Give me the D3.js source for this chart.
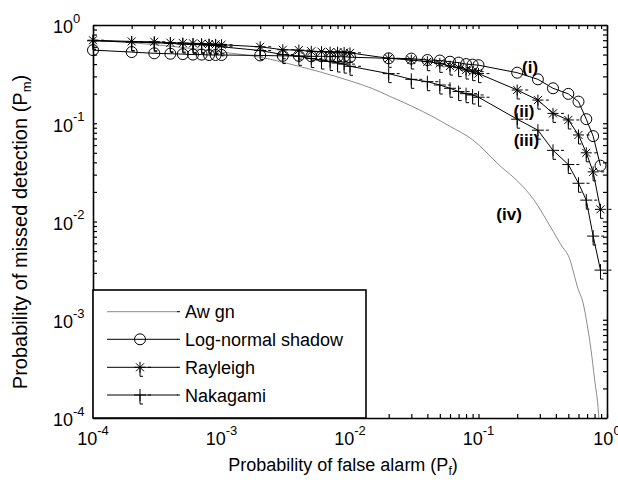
<!DOCTYPE html>
<html><head><meta charset="utf-8">
<script src="https://cdn.jsdelivr.net/npm/d3@7"></script>
<style>body{margin:0;background:#fff}svg text{font-family:"Liberation Sans",Arial,sans-serif;fill:#000}</style>
</head><body><svg id="c" width="618" height="485"></svg>
<script>
// ---- data ----
const pf = [1e-4,2e-4,3e-4,4e-4,5e-4,6e-4,7e-4,8e-4,9e-4,
            1e-3,2e-3,3e-3,4e-3,5e-3,6e-3,7e-3,8e-3,9e-3,
            1e-2,2e-2,3e-2,4e-2,5e-2,6e-2,7e-2,8e-2,9e-2,
            0.1,0.2,0.29,0.38,0.5,0.6,0.69,0.78,0.89];
const logNormal = [0.555,0.53,0.515,0.51,0.505,0.50,0.50,0.495,0.495,
                   0.495,0.49,0.485,0.485,0.48,0.48,0.478,0.476,0.475,
                   0.47,0.458,0.455,0.44,0.435,0.423,0.414,0.40,0.395,
                   0.39,0.327,0.28,0.227,0.199,0.166,0.11,0.074,0.037];
const rayleigh = [0.70,0.68,0.675,0.66,0.655,0.65,0.645,0.64,0.635,
                  0.63,0.60,0.56,0.555,0.54,0.535,0.53,0.53,0.525,
                  0.52,0.458,0.44,0.423,0.407,0.382,0.368,0.348,0.335,
                  0.32,0.218,0.172,0.126,0.108,0.076,0.05,0.032,0.0133];
const nakagami = [0.69,0.67,0.66,0.65,0.64,0.635,0.63,0.625,0.62,
                  0.60,0.55,0.50,0.48,0.455,0.44,0.425,0.41,0.40,
                  0.38,0.32,0.28,0.265,0.245,0.227,0.21,0.20,0.194,
                  0.184,0.11,0.085,0.053,0.038,0.0245,0.0165,0.0071,0.0032];
const awgnPf = [1e-4,2e-4,5e-4,1e-3,2e-3,4e-3,6e-3,1e-2,1.5e-2,2e-2,3e-2,4.5e-2,6e-2,9e-2,
                0.15,0.2,0.27,0.36,0.45,0.5,0.6,0.65,0.7,0.75,0.8,0.86,0.9];
const awgnPm = [0.70,0.66,0.59,0.53,0.47,0.38,0.33,0.27,0.225,0.19,0.15,0.115,0.093,0.068,
                0.036,0.026,0.0166,0.009,0.0055,0.0045,0.002,0.0015,0.0009,0.0005,0.00025,0.00011,0.00004];
const seriesNames = ["Aw gn","Log-normal shadow","Rayleigh","Nakagami"];
const curveLabels = ["(i)","(ii)","(iii)","(iv)"];
const labelPf = [0.252,0.226,0.236,0.173];
const labelPm = [0.321,0.117,0.0587,0.01035];
const decades = [1e-4,1e-3,1e-2,1e-1,1];
const exps = ["-4","-3","-2","-1","0"];

// ---- layout ----
const svg = d3.select("#c");
const L=93,R=607,T=25,B=418;
const x = d3.scaleLog().domain([1e-4,1]).range([L,R]);
const y = d3.scaleLog().domain([1e-4,1]).range([B,T]);
const minor = [];
decades.slice(0,4).forEach(d=>{for(let k=2;k<=9;k++)minor.push(d*k);});
const allTicks = decades.concat(minor);

svg.append("defs").append("clipPath").attr("id","clip")
  .append("rect").attr("x",L).attr("y",T).attr("width",R-L).attr("height",B-T);

// axes (ticks inward on all sides)
const TK=4;
function ax(gen, tr, inward){
  const g = svg.append("g").attr("transform",tr)
    .call(gen.tickValues(allTicks).tickSizeInner(TK).tickSizeOuter(0).tickFormat(""));
  g.select(".domain").attr("stroke","#000").attr("stroke-width",1.6);
  g.selectAll(".tick line").attr("stroke","#000").attr("stroke-width",1.2).each(function(){
    const el=d3.select(this); inward(el);
  });
  return g;
}
ax(d3.axisBottom(x), `translate(0,${B})`, el=>el.attr("y2",-TK));
ax(d3.axisTop(x), `translate(0,${T})`, el=>el.attr("y2",TK));
ax(d3.axisLeft(y), `translate(${L},0)`, el=>el.attr("x2",TK));
ax(d3.axisRight(y), `translate(${R},0)`, el=>el.attr("x2",-TK));

// tick labels
decades.forEach((d,i)=>{
  const t = svg.append("text").attr("x",x(d)).attr("y",445).attr("text-anchor","middle").attr("font-size",18);
  t.append("tspan").text("10");
  t.append("tspan").attr("dy",-10.5).attr("font-size",13).text(exps[i]);
  const u = svg.append("text").attr("x",53).attr("y",y(d)+8.3).attr("font-size",18);
  u.append("tspan").text("10");
  u.append("tspan").attr("dy",-10.5).attr("font-size",13).text(exps[i]);
});
// axis titles
const xt = svg.append("text").attr("x",343).attr("y",471).attr("text-anchor","middle").attr("font-size",18);
xt.append("tspan").text("Probability of false alarm (P");
xt.append("tspan").attr("font-size",12).attr("dy",4).text("f");
xt.append("tspan").attr("dy",-4).text(")");
const yt = svg.append("text").attr("transform","translate(27,232) rotate(-90)").attr("text-anchor","middle").attr("font-size",20);
yt.append("tspan").text("Probability of missed detection (P");
yt.append("tspan").attr("font-size",13).attr("dy",4).text("m");
yt.append("tspan").attr("dy",-4).text(")");

// data
const line = d3.line().x(d=>x(d[0])).y(d=>y(d[1]));
svg.append("g").attr("clip-path","url(#clip)").append("path").datum(awgnPf.map((p,i)=>[p,awgnPm[i]]))
  .attr("d",line.curve(d3.curveMonotoneX)).attr("fill","none").attr("stroke","#8c8c8c").attr("stroke-width",1);
line.curve(d3.curveLinear);
const plot = svg.append("g");
const foot = "M0,0V9H3M8,0H11";
const plusP = "M-6,0H6M0,-6V6"+foot;
const starP = "M-5.5,0H5.5M0,-5.5V5.5M-4,-4L4,4M-4,4L4,-4"+foot;
function series(vals, glyph){
  const pts = pf.map((p,i)=>[p,vals[i]]);
  plot.append("path").datum(pts).attr("d",line).attr("fill","none").attr("stroke","#000").attr("stroke-width",1);
  const g = plot.append("g").selectAll("g").data(pts).join("g")
    .attr("transform",d=>`translate(${x(d[0])},${y(d[1])})`);
  if(glyph==="o") g.append("circle").attr("r",5.5).attr("fill","none").attr("stroke","#000").attr("stroke-width",1);
  else g.append("path").attr("d",glyph==="*"?starP:plusP).attr("fill","none").attr("stroke","#000").attr("stroke-width",1);
}
series(logNormal,"o");
series(rayleigh,"*");
series(nakagami,"+");

// curve labels
curveLabels.forEach((c,i)=>{
  svg.append("text").attr("x",x(labelPf[i])).attr("y",y(labelPm[i])).attr("font-size",17)
    .attr("font-weight","bold").attr("text-anchor","middle").text(c);
});

// legend
const lg = svg.append("g");
lg.append("rect").attr("x",L).attr("y",290).attr("width",366-L).attr("height",B-290)
  .attr("fill","#fff").attr("stroke","#000").attr("stroke-width",1.6);
const ly = [311.7,339.3,367.3,395];
seriesNames.forEach((n,i)=>{
  lg.append("line").attr("x1",107).attr("x2",178).attr("y1",ly[i]).attr("y2",ly[i])
    .attr("stroke",i===0?"#8c8c8c":"#000").attr("stroke-width",1);
  lg.append("line").attr("x1",177).attr("x2",180).attr("y1",ly[i]).attr("y2",ly[i]).attr("stroke","#000");
  const g = lg.append("g").attr("transform",`translate(140,${ly[i]})`);
  if(i===1) g.append("circle").attr("r",5.5).attr("fill","none").attr("stroke","#000");
  if(i===2) g.append("path").attr("d",starP).attr("fill","none").attr("stroke","#000");
  if(i===3) g.append("path").attr("d",plusP).attr("fill","none").attr("stroke","#000");
  lg.append("text").attr("x",185).attr("y",ly[i]+6.5).attr("font-size",18).text(n);
});
</script></body></html>
